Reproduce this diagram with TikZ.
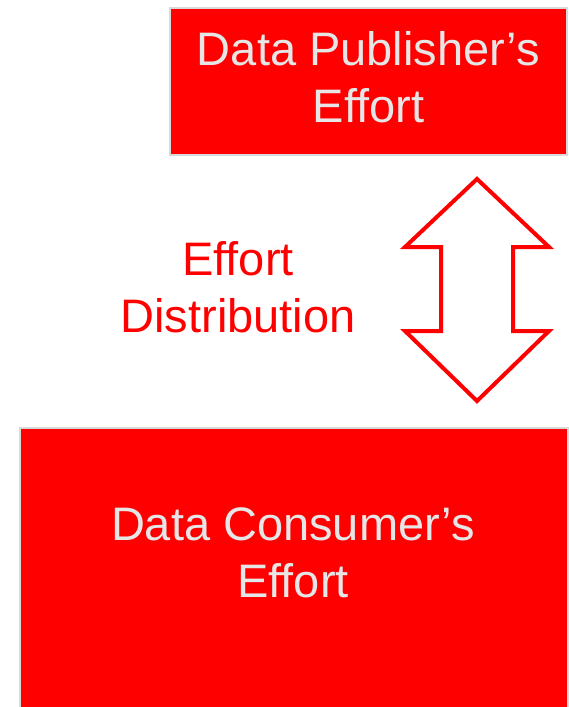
\documentclass[tikz,border=0pt]{standalone}
\usepackage{fontspec}
\setmainfont{Liberation Sans}
\definecolor{boxred}{HTML}{FF0000}
\definecolor{boxedge}{HTML}{D9D9D9}
\definecolor{boxtext}{HTML}{E6E6E6}
\begin{document}
\begin{tikzpicture}[x=1pt,y=-1pt,
  effortbox/.style={draw=boxedge,line width=2pt,fill=boxred,inner sep=0pt},
  bigtext/.style={font=\fontsize{47}{57}\selectfont,align=center,inner sep=0pt},
  arrowline/.style={draw=boxred,line width=4pt,line join=miter,fill=white}]
  \useasboundingbox (0,0) rectangle (569,707);
  % publisher box
  \node[effortbox,minimum width=397pt,minimum height=147pt] (pub) at (368.5,81.5) {};
  \node[bigtext,text=boxtext] (pubtext) at (368.5,77) {Data Publisher’s\\Effort};
  % consumer box (runs past the lower edge)
  \node[effortbox,minimum width=548pt,minimum height=320pt,anchor=north west] (con) at (19,427) {};
  \node[bigtext,text=boxtext] (context) at (293,553) {Data Consumer’s\\Effort};
  % two-headed block arrow
  \draw[arrowline] (477,179) -- (549,247) -- (513,247) -- (513,331) -- (549,331)
    -- (477,401) -- (405,331) -- (441,331) -- (441,247) -- (405,247) -- cycle;
  % label
  \node[bigtext,text=boxred] (dist) at (238,287.5) {Effort\\Distribution};
\end{tikzpicture}
\end{document}
